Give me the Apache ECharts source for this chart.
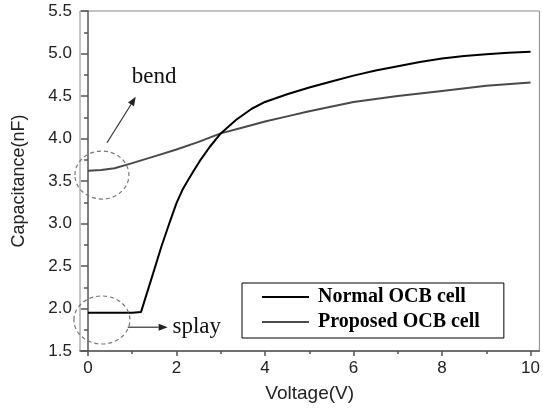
<!DOCTYPE html>
<html>
<head>
<meta charset="utf-8">
<script src="https://cdn.jsdelivr.net/npm/echarts@6/dist/echarts.min.js"></script>
<style>html,body{margin:0;padding:0;background:#fff;}#c{width:543px;height:411px;}</style>
</head>
<body>
<div id="c"></div>
<script>
// ---- data ----
const normalVoltage = [0, 0.5, 1.0, 1.2, 1.47, 1.66, 1.85, 2.0, 2.13, 2.26, 2.4, 2.52, 2.75, 3.0, 3.35, 3.7, 4.0, 4.5, 5, 5.5, 6, 6.5, 7, 7.5, 8, 8.5, 9, 9.5, 10];
const normalCap     = [1.95, 1.95, 1.95, 1.96, 2.41, 2.73, 3.02, 3.24, 3.39, 3.51, 3.63, 3.73, 3.9, 4.06, 4.22, 4.35, 4.43, 4.52, 4.6, 4.67, 4.74, 4.8, 4.85, 4.9, 4.94, 4.97, 4.99, 5.01, 5.02];
const proposedVoltage = [0, 0.3, 0.6, 1.0, 1.5, 2.0, 2.5, 3.0, 3.5, 4.0, 4.5, 5, 6, 7, 8, 9, 10];
const proposedCap     = [3.62, 3.63, 3.65, 3.71, 3.79, 3.87, 3.96, 4.06, 4.13, 4.2, 4.26, 4.32, 4.43, 4.5, 4.56, 4.62, 4.66];
const xMajorTicks = [0, 2, 4, 6, 8, 10];
const xMinorTicks = [1, 3, 5, 7, 9];
const seriesNames = ['Normal OCB cell', 'Proposed OCB cell'];
// annotation anchors (data coordinates)
const bendCircle = [0.315, 3.57];
const splayCircle = [0.315, 1.865];
const bendArrow = [[0.43, 3.95], [1.08, 4.49]];
const splayArrow = [[0.9, 1.78], [1.8, 1.78]];
const bendLabel = [0.99, 4.72];
const splayLabel = [1.91, 1.78];

const zip = (a, b) => a.map((v, i) => [v, b[i]]);

const chart = echarts.init(document.getElementById('c'));
const axisColor = '#555';
const labelFont = { fontFamily: 'Liberation Sans', fontSize: 17, color: '#222' };

chart.setOption({
  animation: false,
  grid: { left: 80, right: 2, top: 11, bottom: 60, show: true, borderColor: '#888', borderWidth: 1 },
  xAxis: [{
    type: 'value', min: -0.18, max: 10.2,
    name: 'Voltage(V)', nameLocation: 'middle', nameGap: 33,
    nameTextStyle: { fontFamily: 'Liberation Sans', fontSize: 19, color: '#222' },
    axisLine: { show: true, onZero: false, lineStyle: { color: axisColor, width: 1.5 } },
    axisTick: { show: true, inside: false, length: 5, customValues: xMajorTicks, lineStyle: { color: axisColor, width: 1.5 } },
    axisLabel: Object.assign({ margin: 9, customValues: xMajorTicks }, labelFont),
    splitLine: { show: false }
  }, {
    type: 'value', min: -0.18, max: 10.2, position: 'bottom',
    axisLine: { show: false },
    axisTick: { show: true, inside: false, length: 3, customValues: xMinorTicks, lineStyle: { color: axisColor, width: 1.5 } },
    axisLabel: { show: false },
    splitLine: { show: false }
  }],
  yAxis: {
    type: 'value', min: 1.5, max: 5.5, interval: 0.5,
    name: 'Capacitance(nF)', nameLocation: 'middle', nameGap: 52,
    nameTextStyle: { fontFamily: 'Liberation Sans', fontSize: 18, color: '#222' },
    axisLine: { show: true, lineStyle: { color: axisColor, width: 1.5 } },
    axisTick: { show: true, inside: false, length: 7, lineStyle: { color: axisColor, width: 1.5 } },
    minorTick: { show: true, splitNumber: 2, length: 4, lineStyle: { color: axisColor, width: 1.5 } },
    axisLabel: Object.assign({ margin: 8, formatter: v => v.toFixed(1) }, labelFont),
    splitLine: { show: false }
  },
  legend: {
    left: 242, top: 283, orient: 'vertical',
    padding: [4, 24, 6, 20], itemGap: 5, itemWidth: 47, itemHeight: 2,
    borderColor: '#000', borderWidth: 1, backgroundColor: '#fff', borderRadius: 0,
    textStyle: { fontFamily: 'Liberation Serif', fontWeight: 'bold', fontSize: 20, color: '#000', lineHeight: 20, padding: [0, 0, 0, 4] },
    data: seriesNames.map(n => ({ name: n, icon: 'rect' }))
  },
  series: [{
    name: seriesNames[0], type: 'line', data: zip(normalVoltage, normalCap),
    showSymbol: false, symbol: 'none', smooth: false,
    lineStyle: { color: '#000', width: 2 }, itemStyle: { color: '#000' }, z: 3
  }, {
    name: seriesNames[1], type: 'line', data: zip(proposedVoltage, proposedCap),
    showSymbol: false, symbol: 'none', smooth: false,
    lineStyle: { color: '#4a4a4a', width: 2 }, itemStyle: { color: '#4a4a4a' }, z: 2
  }]
});

function px(p) { return chart.convertToPixel({ gridIndex: 0 }, p); }
function arrow(a, b) {
  const p0 = px(a), p1 = px(b);
  const ang = Math.atan2(p1[1] - p0[1], p1[0] - p0[0]);
  const L = 9, W = 3.5;
  const base = [p1[0] - L * Math.cos(ang), p1[1] - L * Math.sin(ang)];
  const nx = -Math.sin(ang), ny = Math.cos(ang);
  return [
    { type: 'line', shape: { x1: p0[0], y1: p0[1], x2: base[0], y2: base[1] }, style: { stroke: '#333', lineWidth: 1.2 }, z: 10 },
    { type: 'polygon', shape: { points: [p1, [base[0] + nx * W, base[1] + ny * W], [base[0] - nx * W, base[1] - ny * W]] }, style: { fill: '#222' }, z: 10 }
  ];
}
const bc = px(bendCircle), sc = px(splayCircle), bl = px(bendLabel), sl = px(splayLabel);
const dashStyle = { fill: 'none', stroke: '#777', lineWidth: 1.2, lineDash: [4, 3] };
chart.setOption({
  graphic: [
    { type: 'ellipse', shape: { cx: bc[0], cy: bc[1], rx: 27, ry: 24 }, style: dashStyle, z: 10 },
    { type: 'ellipse', shape: { cx: sc[0], cy: sc[1], rx: 28, ry: 24 }, style: dashStyle, z: 10 },
    ...arrow(bendArrow[0], bendArrow[1]),
    ...arrow(splayArrow[0], splayArrow[1]),
    { type: 'text', x: bl[0], y: bl[1], style: { text: 'bend', fontFamily: 'Liberation Serif', fontSize: 23, fill: '#111', align: 'left', verticalAlign: 'middle' }, z: 10 },
    { type: 'text', x: sl[0], y: sl[1], style: { text: 'splay', fontFamily: 'Liberation Serif', fontSize: 23, fill: '#111', align: 'left', verticalAlign: 'middle' }, z: 10 }
  ]
});
</script>
</body>
</html>
